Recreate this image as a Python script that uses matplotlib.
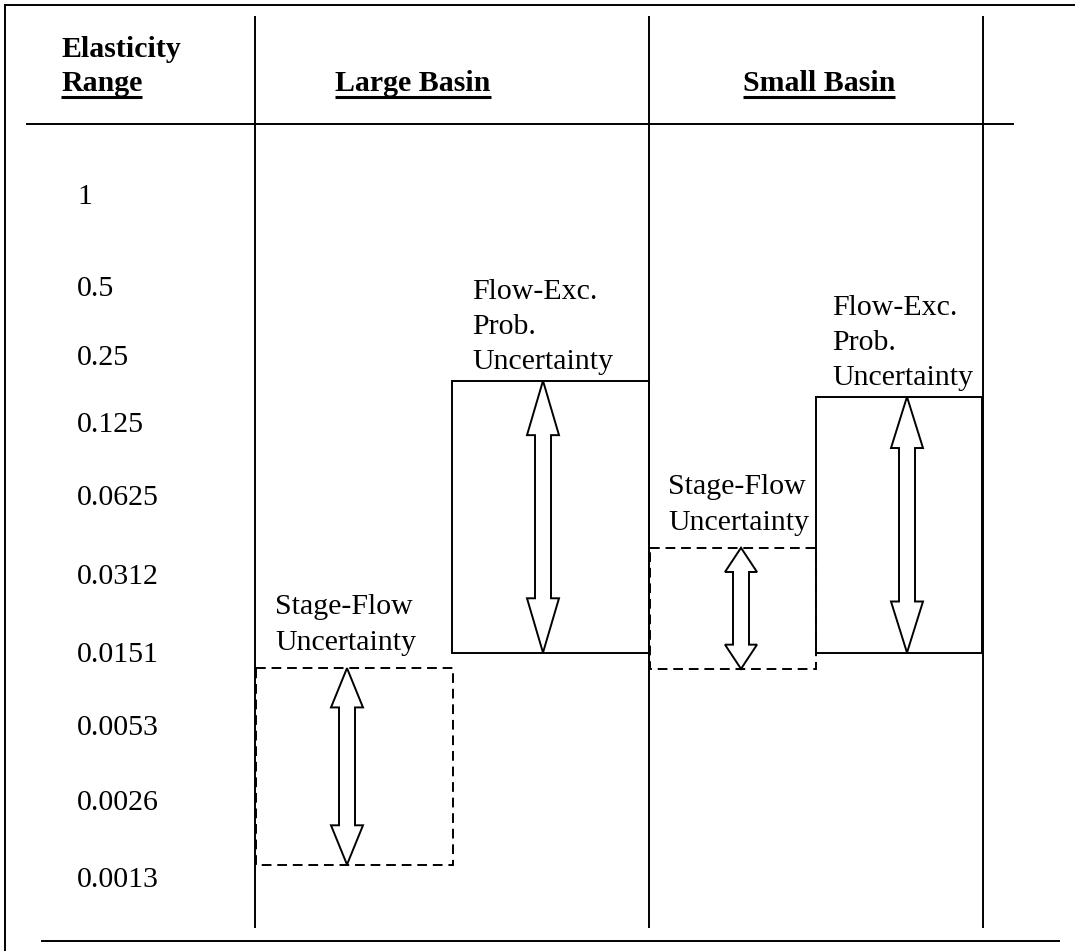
import numpy as np
import matplotlib
matplotlib.use("Agg")
import matplotlib.pyplot as plt
from matplotlib.patches import Rectangle, Polygon

# ---- data ----
elasticity = ["1", "0.5", "0.25", "0.125", "0.0625", "0.0312",
              "0.0151", "0.0053", "0.0026", "0.0013"]
basins = ["Large Basin", "Small Basin"]
# uncertainty ranges in elasticity-row units (0 = "1", 9 = "0.0013")
stage_flow_top = [6.18, 4.63]
stage_flow_bottom = [8.80, 6.19]
flow_exc_top = [2.34, 2.58]
flow_exc_bottom = [5.97, 5.97]
sf_label = ["Stage-Flow", "Uncertainty"]
fe_label = ["Flow-Exc.", "Prob.", "Uncertainty"]

# ---- layout (pixels) ----
W, H = 1075, 951
row_y = [197, 289, 358, 425, 498, 577, 655, 728, 803, 880]
col_x = [255, 649, 983]
sf_x = [(256, 453), (650, 816)]
fe_x = [(452, 649), (816, 982)]
sf_arrow_x = [347, 741]
fe_arrow_x = [543, 907]
hdr_x = [413, 819]
FS = 21.5
SERIF = ["Liberation Serif", "DejaVu Serif"]
LW = 1.4


def rowpix(r):
    return np.interp(r, np.arange(len(row_y)), row_y)


def double_arrow(ax, xc, y0, y1):
    L = y1 - y0
    hl = 0.2 * L
    hw = 16
    sw = 8
    pts = [(xc, y0), (xc + hw, y0 + hl), (xc + sw, y0 + hl),
           (xc + sw, y1 - hl), (xc + hw, y1 - hl), (xc, y1),
           (xc - hw, y1 - hl), (xc - sw, y1 - hl), (xc - sw, y0 + hl),
           (xc - hw, y0 + hl)]
    ax.add_patch(Polygon(pts, closed=True, fill=False, ec="black", lw=LW,
                         joinstyle="miter", zorder=4))


def label_lines(ax, x, bottom_baseline, lines, step=36):
    n = len(lines)
    for k, s in enumerate(lines):
        ax.text(x, bottom_baseline - (n - 1 - k) * step, s, fontsize=FS,
                family=SERIF, ha="left", va="baseline")


fig = plt.figure(figsize=(W / 100, H / 100), dpi=100)
ax = fig.add_axes([0, 0, 1, 1])
ax.set_xlim(0, W)
ax.set_ylim(H, 0)
ax.axis("off")

# frame / table lines
ax.plot([5, W], [5, 5], color="black", lw=LW)
ax.plot([5, 5], [5, H], color="black", lw=LW)
ax.plot([27, 1013], [124, 124], color="black", lw=LW)
ax.plot([42, 1059], [941, 941], color="black", lw=LW)
for x in col_x:
    ax.plot([x, x], [17, 927], color="black", lw=LW)

# header
ax.text(61, 57, "Elasticity", fontsize=FS, fontweight="bold",
        family=SERIF, ha="left", va="baseline")
underlined = [ax.text(61, 91, "Range", fontsize=FS, fontweight="bold",
                      family=SERIF, ha="left", va="baseline")]
for name, x in zip(basins, hdr_x):
    underlined.append(ax.text(x, 91, name, fontsize=FS, fontweight="bold",
                              family=SERIF, ha="center", va="baseline"))

fig.canvas.draw()
inv = ax.transData.inverted()
for t in underlined:
    bb = t.get_window_extent()
    (x0, _), (x1, _) = inv.transform([(bb.x0, bb.y0), (bb.x1, bb.y1)])
    ax.plot([x0, x1], [97, 97], color="black", lw=2.2, solid_capstyle="butt")

# row labels
for lab, y in zip(elasticity, row_y):
    ax.text(77, y, lab, fontsize=FS, family=SERIF, ha="left", va="center")

# uncertainty boxes
for i in range(2):
    t, b = rowpix(stage_flow_top[i]), rowpix(stage_flow_bottom[i])
    x0, x1 = sf_x[i]
    ax.add_patch(Rectangle((x0, t), x1 - x0, b - t, fill=False, ec="black",
                           lw=LW, ls=(0, (5, 3)), zorder=3))
    double_arrow(ax, sf_arrow_x[i], t, b)
    label_lines(ax, x0 + 19 if i == 0 else x0 + 18, t - 18, sf_label)

    t, b = rowpix(flow_exc_top[i]), rowpix(flow_exc_bottom[i])
    x0, x1 = fe_x[i]
    ax.add_patch(Rectangle((x0, t), x1 - x0, b - t, fill=False, ec="black",
                           lw=LW, zorder=3))
    double_arrow(ax, fe_arrow_x[i], t, b)
    label_lines(ax, x0 + 20 if i == 0 else x0 + 16, t - 12, fe_label, step=35)

fig.savefig("out.png", dpi=100)
